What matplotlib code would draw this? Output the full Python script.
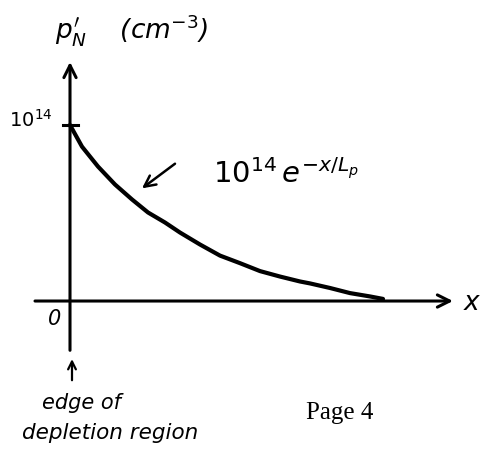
import matplotlib
matplotlib.use("Agg")
import matplotlib.pyplot as plt

# Excess hole density in the n-side, sketched as 10^14 exp(-x/Lp)
# x in units of Lp, p in units of 1e14 cm^-3
x_vals = [0.0, 0.12, 0.28, 0.45, 0.62, 0.78, 0.95, 1.10, 1.30, 1.50,
          1.70, 1.90, 2.10, 2.30, 2.40, 2.60, 2.80, 3.00, 3.13]
p_vals = [1.0, 0.877, 0.764, 0.662, 0.577, 0.503, 0.446, 0.389, 0.321, 0.258,
          0.215, 0.170, 0.139, 0.111, 0.100, 0.074, 0.045, 0.026, 0.012]

y_tick_label = "$10^{14}$"
curve_label = "$10^{14}\\,e^{-x/L_p}$"
y_axis_label = "$p_N'$    (cm$^{-3}$)"
x_axis_label = "$x$"

fig = plt.figure(figsize=(4.81, 4.51), dpi=100)
ax = fig.add_axes([0, 0, 1, 1])
ax.set_xlim(-0.70, 4.11)
ax.set_ylim(-0.852, 1.710)
ax.axis("off")

hand = dict(color="black", fontstyle="italic", family="DejaVu Sans")

# axes with open arrowheads
ax.annotate("", xy=(3.83, 0), xytext=(-0.35, 0),
            arrowprops=dict(arrowstyle="->", lw=2.2, color="black",
                            mutation_scale=22, shrinkA=0, shrinkB=0))
ax.annotate("", xy=(0, 1.358), xytext=(0, -0.28),
            arrowprops=dict(arrowstyle="->", lw=2.2, color="black",
                            mutation_scale=22, shrinkA=0, shrinkB=0))

# tick at 10^14
ax.plot([-0.07, 0.08], [1, 1], color="black", lw=2.2)
ax.text(-0.17, 1.03, y_tick_label, ha="right", va="center", fontsize=14, **hand)

# the decaying curve
ax.plot(x_vals, p_vals, color="black", lw=3, solid_capstyle="round",
        solid_joinstyle="round")

# curve label with pointer
ax.text(1.43, 0.72, curve_label, ha="left", va="center", fontsize=21, **hand)
ax.annotate("", xy=(0.72, 0.64), xytext=(1.05, 0.78),
            arrowprops=dict(arrowstyle="->", lw=1.8, color="black",
                            mutation_scale=20, shrinkA=0, shrinkB=0))

# axis labels
ax.text(-0.15, 1.54, y_axis_label, ha="left", va="center", fontsize=19, **hand)
ax.text(3.93, -0.01, x_axis_label, ha="left", va="center", fontsize=19, **hand)
ax.text(-0.15, -0.10, "0", ha="center", va="center", fontsize=15, **hand)

# marker for the depletion edge
ax.annotate("", xy=(0.02, -0.33), xytext=(0.02, -0.45),
            arrowprops=dict(arrowstyle="->", lw=1.6, color="black",
                            mutation_scale=14, shrinkA=0, shrinkB=0))
ax.text(0.12, -0.58, "edge of", ha="center", va="center", fontsize=15, **hand)
ax.text(0.40, -0.748, "depletion region", ha="center", va="center", fontsize=15.5, **hand)

ax.text(2.70, -0.636, "Page 4", ha="center", va="center", fontsize=18,
        family="Liberation Serif", color="black")

fig.savefig("out.png", dpi=100)
